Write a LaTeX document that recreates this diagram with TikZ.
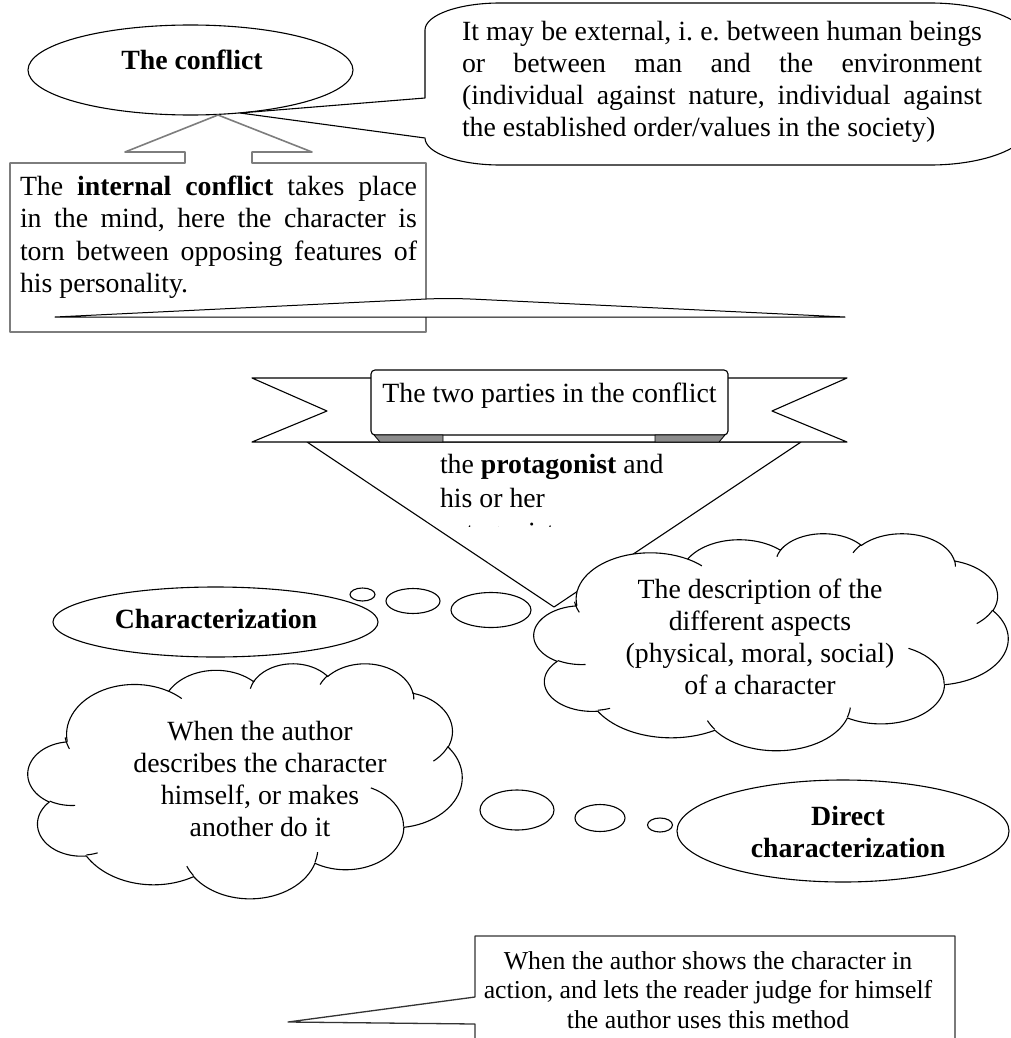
\documentclass[tikz,border=0pt]{standalone}
\usepackage{fontspec}
\setmainfont{Liberation Serif}
\usetikzlibrary{shapes.geometric}
\definecolor{boxgrey}{RGB}{125,125,125}
\definecolor{foldgrey}{RGB}{140,140,140}
\newcommand\normsp{\spaceskip=0pt \xspaceskip=0pt \frenchspacing\relax}
\newcommand\natsp{\frenchspacing\spaceskip=\fontdimen2\font \xspaceskip=\fontdimen2\font\relax}
\newcommand\wordcloud[5]{%
\begin{scope}[shift={(#2,#3)},xscale=#4/432,yscale=#5/432]
\coordinate (#1) at (216,216);
\draw[ln,fill=white,variable=\t,samples=30]
 plot[domain=-187.745:-59.637] ({105.913+67.53*cos(\t)},{131.316+91.90*sin(\t)})
 -- plot[domain=-152.03:-45.436] ({187.158+53.33*cos(\t)},{86.101+72.67*sin(\t)})
 -- plot[domain=-153.492:-37.35] ({263.658+43.65*cos(\t)},{60.882+59.45*sin(\t)})
 -- plot[domain=-139.72:-10.211] ({335.411+48.57*cos(\t)},{67.436+65.95*sin(\t)})
 -- plot[domain=-74.768:23.208] ({369.202+53.33*cos(\t)},{125.922+72.73*sin(\t)})
 -- plot[domain=-37.547:81.862] ({364.509+67.75*cos(\t)},{210.785+92.2*sin(\t)})
 -- plot[domain=0.4596:121.98] ({316.252+57.85*cos(\t)},{301.426+78.67*sin(\t)})
 -- plot[domain=16.845:146.212] ({220.99+67.52*cos(\t)},{341.452+92.15*sin(\t)})
 -- plot[domain=58.98:150.202] ({125.079+77.2*cos(\t)},{302.352+105.43*sin(\t)})
 -- plot[domain=-276.694:-136.88] ({53.004+43.6*cos(\t)},{295.975+59.18*sin(\t)})
 -- plot[domain=-239.65:-95.888] ({43.142+43.45*cos(\t)},{204.215+59.45*sin(\t)})
 -- cycle;
\draw[ln,variable=\t,samples=12]
 plot[domain=85.546:120.35] ({43.556+43.45*cos(\t)},{202.5+59.45*sin(\t)})
 plot[domain=68.236:83.306] ({53.114+43.6*cos(\t)},{294.028+59.18*sin(\t)})
 plot[domain=146.212:158.473] ({220.898+67.52*cos(\t)},{339.655+92.15*sin(\t)})
 plot[domain=4.738:16.845] ({220.981+67.52*cos(\t)},{339.898+92.15*sin(\t)})
 plot[domain=-64.028:0.4596] ({315.952+57.85*cos(\t)},{300.262+78.67*sin(\t)})
 plot[domain=23.208:49.649] ({368.966+53.33*cos(\t)},{124.879+72.73*sin(\t)})
 plot[domain=-10.211:0.821] ({335.439+48.57*cos(\t)},{65.95+65.95*sin(\t)})
 plot[domain=-156.275:-139.72] ({335.246+48.57*cos(\t)},{66.056+65.95*sin(\t)})
 plot[domain=-167.726:-152.344] ({264.062+43.65*cos(\t)},{59.838+59.45*sin(\t)})
 plot[domain=-59.637:-45.716] ({105.862+67.53*cos(\t)},{131.212+91.9*sin(\t)})
 plot[domain=157.67:171.286] ({103.735+67.53*cos(\t)},{122.968+91.9*sin(\t)});
\end{scope}}
\begin{document}
\begin{tikzpicture}[x=1pt,y=-1pt,line join=round,
  every node/.style={inner sep=0pt,outer sep=0pt},
  ln/.style={draw=black,line width=1.1pt},
  gbox/.style={draw=boxgrey,line width=1.6pt},
  dbox/.style={draw=black!80,line width=1.3pt},
  oval/.style={ellipse,ln,fill=white},
  body/.style={font=\fontsize{27.8}{32}\selectfont},
  bodyb/.style={font=\fontsize{27.8}{32}\selectfont\bfseries}]
\useasboundingbox (0,0) rectangle (1011,1038);

% The conflict
\node[oval,minimum width=325pt,minimum height=90pt] (conflict) at (190.5,70) {};
\node[bodyb,anchor=base] (conflictlbl) at (192,70) {The conflict};

% external conflict bubble
\coordinate (extapex) at (240,113);
\draw[ln,fill=white] (425,98) -- (extapex) -- (425,138)
  .. controls (425,152.9) and (458.6,165) .. (500,165) -- (930,165)
  .. controls (985.2,165) and (1030,147.1) .. (1030,125) -- (1030,43)
  .. controls (1030,20.9) and (985.2,3) .. (930,3) -- (500,3)
  .. controls (458.6,3) and (425,15.1) .. (425,30) -- cycle;
\node[body,anchor=base west,text width=520pt,align=left] (external) at (462,41)
 {\normsp\makebox[520pt][s]{It may be external, i. e. between human beings}\\
  \makebox[520pt][s]{or between man and the environment}\\
  \makebox[520pt][s]{(individual against nature, individual against}\\
  \natsp the established order/values in the society)};

% internal conflict box
\coordinate (intapex) at (218,115);
\draw[gbox,fill=white] (252,163) -- (426,163) -- (426,332) -- (10,332) -- (10,163)
  -- (185,163) -- (185,152) -- (125,152) -- (intapex) -- (312,152) -- (252,152) -- cycle;
\node[font=\fontsize{27.8}{32.5}\selectfont,anchor=base west,text width=397pt,align=left] (internal) at (20,195)
 {\normsp\makebox[397pt][s]{The \textbf{internal conflict} takes place}\\
  \makebox[397pt][s]{in the mind, here the character is}\\
  \makebox[397pt][s]{torn between opposing features of}\\
  \natsp his personality.};

% long wedge
\draw[ln,line width=1pt,fill=white] (55,317) -- (420,299.3)
  .. controls (440,298.3) and (455,298.3) .. (475,299.2) -- (845,317) -- cycle;

% triangle under the banner
\coordinate (tapex) at (554,607);
\draw[ln,fill=white] (307,442) -- (801,442) -- (tapex) -- cycle;

% banner
\draw[ln,fill=white] (252,378) -- (847,378) -- (772,411) -- (847,442)
  -- (252,442) -- (327,411) -- cycle;
\node[ln,fill=white,rounded corners=4pt,minimum width=357pt,minimum height=65pt] (parties) at (549.5,402.5) {};
\draw[ln,line width=0.8pt,fill=foldgrey] (374,435) -- (443,435) -- (443,442) -- (380,442) -- cycle;
\draw[ln,line width=0.8pt,fill=foldgrey] (655,435) -- (725,435) -- (719,442) -- (655,442) -- cycle;
\node[body,anchor=base] (partieslbl) at (549.5,402) {\natsp The two parties in the conflict};

% text inside the triangle (clipped)
\begin{scope}
\clip (430,446) rectangle (720,526);
\node[font=\fontsize{27.8}{34}\selectfont,anchor=base west,text width=300pt,align=left] (protag) at (440,473)
 {\natsp the \textbf{protagonist} and\\his or her\\antagonist};
\end{scope}

% Characterization
\node[oval,minimum width=325pt,minimum height=70pt] (charac) at (215.5,622) {};
\node[bodyb,anchor=base] (characlbl) at (216,628) {Characterization};
\node[oval,minimum width=25pt,minimum height=13pt] (tb1) at (362.5,594.5) {};
\node[oval,minimum width=54pt,minimum height=25pt] (tb2) at (413,601) {};
\node[oval,minimum width=80pt,minimum height=35pt] (tb3) at (491,610) {};

% description cloud
\wordcloud{desc}{534}{533}{474}{217}
\node[body,anchor=base,text width=400pt,align=center] (desclbl) at (760,598)
 {\natsp The description of the\\different aspects\\(physical, moral, social)\\of a character};

% left cloud
\wordcloud{author}{28}{663}{434}{235}
\node[body,anchor=base,text width=400pt,align=center] (authorlbl) at (260,740)
 {\natsp When the author\\describes the character\\himself, or makes\\another do it};
\node[oval,minimum width=74pt,minimum height=40pt] (tc1) at (517,810) {};
\node[oval,minimum width=50pt,minimum height=27pt] (tc2) at (600,818) {};
\node[oval,minimum width=25pt,minimum height=14pt] (tc3) at (660,825) {};

% Direct characterization
\node[oval,minimum width=332pt,minimum height=102pt] (direct) at (843,831) {};
\node[bodyb,anchor=base,text width=300pt,align=center] (directlbl) at (848,825)
 {Direct\\characterization};

% bottom callout box
\coordinate (botapex) at (288,1022);
\draw[dbox,fill=white] (475,997) -- (botapex) -- (475,1024) -- (475,1050)
  -- (955,1050) -- (955,936) -- (475,936) -- cycle;
\node[font=\fontsize{25.8}{29.7}\selectfont,anchor=base,text width=470pt,align=center] (indirect) at (708,969)
 {\natsp When the author shows the character in\\action, and lets the reader judge for himself\\the author uses this method};
\end{tikzpicture}
\end{document}
